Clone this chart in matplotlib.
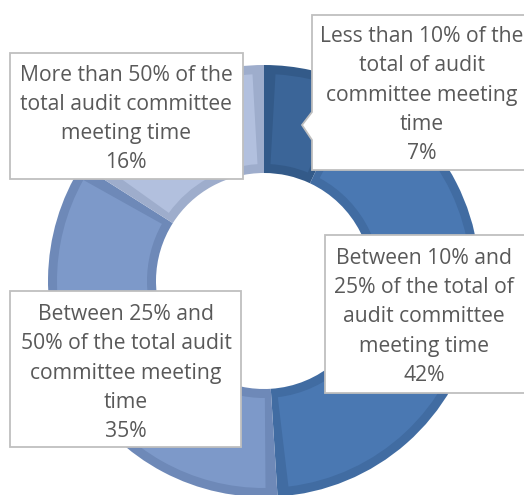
import matplotlib
matplotlib.use("Agg")
import matplotlib.pyplot as plt
from matplotlib.patches import Polygon

# ---- data ----
categories = [
    "Less than 10% of the\ntotal of audit\ncommittee meeting\ntime",
    "Between 10% and\n25% of the total of\naudit committee\nmeeting time",
    "Between 25% and\n50% of the total audit\ncommittee meeting\ntime",
    "More than 50% of the\ntotal audit committee\nmeeting time",
]
values = [7, 42, 35, 16]
pct_labels = ["7%", "42%", "35%", "16%"]

fill_colors = ["#3b6598", "#4a78b2", "#7d99c9", "#b2c0de"]
band_colors = ["#335a89", "#416ca2", "#6e89b8", "#9eadcc"]

W, H = 524, 495
fig = plt.figure(figsize=(W / 100, H / 100), dpi=100)
ax = fig.add_axes([0, 0, 1, 1])

def py(y):
    return H - y

cx, cy, R = 264, py(281), 216
ring = R * 0.5
band = 9

# outer pie: band colour (bevel edge)
ax.pie(values, startangle=90, counterclock=False, colors=band_colors,
       center=(cx, cy), radius=R, frame=True,
       wedgeprops=dict(width=ring, linewidth=0))

# inner pie: main fill, inset on all sides
gap = band / (R - ring / 2) * 180 / 3.141592653589793 / 360 * sum(values)
inner_vals, inner_cols = [], []
for v, c in zip(values, fill_colors):
    inner_vals += [gap, v - 2 * gap, gap]
    inner_cols += ["none", c, "none"]
ax.pie(inner_vals, startangle=90, counterclock=False, colors=inner_cols,
       center=(cx, cy), radius=R - band, frame=True,
       wedgeprops=dict(width=ring - 2 * band, linewidth=0))

ax.set_xlim(0, W)
ax.set_ylim(0, H)
ax.set_aspect("equal")
ax.axis("off")

font = "Open Sans"
txt_color = "#595959"
border = "#bfbfbf"

def box(x0, y0, x1, y1, pointer=None):
    pts = [(x0, y0), (x1, y0), (x1, y1), (x0, y1)]
    if pointer is not None:
        yt, tx, ty, yb = pointer
        pts = [(x0, y0), (x1, y0), (x1, y1), (x0, y1), (x0, yb), (tx, ty), (x0, yt)]
    pts = [(x, py(y)) for x, y in pts]
    ax.add_patch(Polygon(pts, closed=True, facecolor="white", edgecolor=border,
                         linewidth=1.3, zorder=5))

box(312, 15, 530, 170, pointer=(112, 302, 125, 140))
box(325, 235, 530, 393)
box(10, 291, 241, 447)
box(10, 53, 243, 179)

text_pos = [(422, 95), (424, 317), (126, 373), (126, 119)]
for cat, pl, (tx, ty) in zip(categories, pct_labels, text_pos):
    ax.text(tx, py(ty), cat + "\n" + pl, ha="center", va="center",
            fontsize=15.2, family=font, color=txt_color, linespacing=1.52, zorder=6)

fig.savefig("out.png", dpi=100)
